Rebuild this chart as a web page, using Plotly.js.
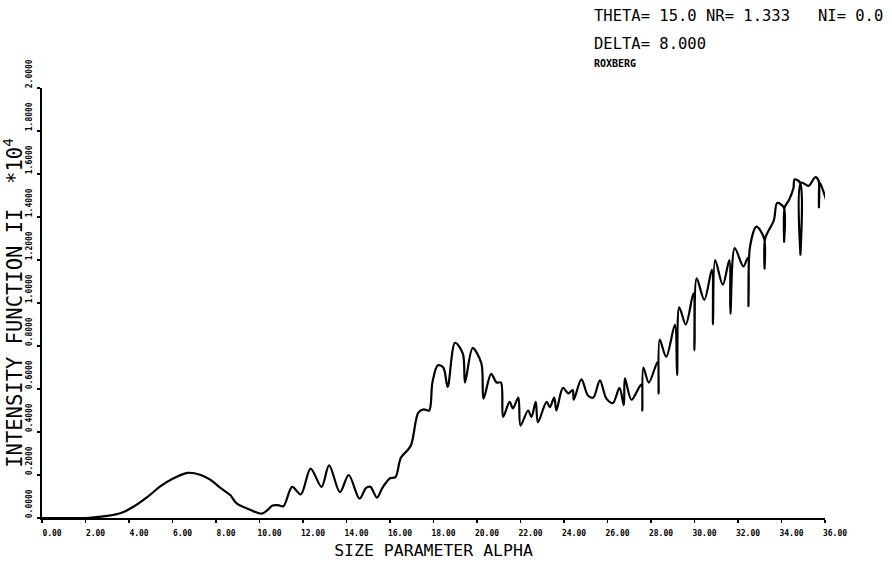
<!DOCTYPE html>
<html>
<head>
<meta charset="utf-8">
<script src="https://cdn.plot.ly/plotly-3.0.1.min.js"></script>
<style>
  html, body { margin: 0; padding: 0; background: #ffffff; }
  #chart { width: 892px; height: 565px; }
</style>
</head>
<body>
<div id="chart"></div>
<script>
// Size parameter alpha (x) and intensity function I1 (*10^4)
const alpha = [
  0.0, 1.0, 2.0, 2.4, 3.0, 3.6, 4.2, 4.85, 5.45, 6.05, 6.7, 7.3, 7.75, 8.2, 8.65, 8.95, 9.6, 10.1,
  10.35, 10.6, 10.85, 11.1, 11.5, 11.9, 12.35, 12.85, 13.2, 13.7, 14.1, 14.6, 14.9, 15.1, 15.4,
  15.65, 16.0, 16.25, 16.5, 16.95, 17.3, 17.55, 17.8, 17.95, 18.2, 18.45, 18.65, 18.99, 19.35,
  19.45, 19.8, 20.2, 20.3, 20.65, 20.9, 21.1, 21.2, 21.5, 21.65, 21.9, 22.0, 22.35, 22.5, 22.7,
  22.8, 23.2, 23.35, 23.55, 23.65, 23.95, 24.2, 24.4, 24.45, 24.8, 25.1, 25.35, 25.65, 25.95,
  26.25, 26.55, 26.75, 26.8, 27.1, 27.55, 27.6, 27.65, 27.9, 28.3, 28.35, 28.4, 28.7, 29.1,
  29.2, 29.3, 29.6, 29.95, 30.0, 30.1, 30.45, 30.8, 30.85, 30.95, 31.3, 31.6, 31.65, 31.85,
  32.25, 32.45, 32.48, 32.55, 32.85, 33.2, 33.22, 33.25, 33.65, 33.8, 34.1, 34.12, 34.15,
  34.35, 34.55, 34.6, 34.85, 34.87, 34.9, 35.25, 35.55, 35.7, 35.72, 35.75, 35.85, 36.05
];
const intensity = [
  0.0, 0.0, 0.0, 0.003, 0.01, 0.022, 0.052, 0.098, 0.148, 0.185, 0.21, 0.2, 0.177, 0.14, 0.107, 0.068, 0.037, 0.02,
  0.035, 0.058, 0.06, 0.055, 0.145, 0.11, 0.23, 0.145, 0.245, 0.12, 0.2, 0.09, 0.14, 0.145, 0.095,
  0.14, 0.185, 0.19, 0.28, 0.335, 0.49, 0.505, 0.5, 0.63, 0.71, 0.7, 0.61, 0.815, 0.765,
  0.63, 0.79, 0.72, 0.555, 0.67, 0.63, 0.63, 0.47, 0.54, 0.51, 0.56, 0.43, 0.5, 0.47, 0.54,
  0.445, 0.54, 0.515, 0.56, 0.5, 0.605, 0.58, 0.595, 0.55, 0.645, 0.57, 0.56, 0.64, 0.555,
  0.535, 0.605, 0.525, 0.65, 0.55, 0.62, 0.5, 0.7, 0.63, 0.725, 0.58, 0.83, 0.75, 0.9,
  0.665, 0.98, 0.9, 1.045, 0.78, 1.115, 1.015, 1.155, 0.9, 1.2, 1.085, 1.2, 0.95, 1.255,
  1.17, 1.21, 0.985, 1.26, 1.355, 1.3, 1.16, 1.3, 1.385, 1.465, 1.445, 1.285, 1.445,
  1.48, 1.535, 1.575, 1.56, 1.225, 1.56, 1.545, 1.585, 1.57, 1.445, 1.56, 1.54, 1.48
];

const xTitle = "SIZE PARAMETER ALPHA";
const yTitle = "INTENSITY FUNCTION II  *10<sup>4</sup>";
const headerLines = ["THETA= 15.0 NR= 1.333   NI= 0.0", "DELTA= 8.000", "ROXBERG"];

const trace = {
  x: alpha,
  y: intensity,
  type: "scatter",
  mode: "lines",
  line: { color: "#000000", width: 2.2, shape: "spline", smoothing: 0.9 },
  hoverinfo: "skip",
  showlegend: false
};

const tickFont = { family: "DejaVu Sans Mono", size: 8, color: "#000000", weight: "bold" };

const layout = {
  width: 892,
  height: 565,
  paper_bgcolor: "#ffffff",
  plot_bgcolor: "#ffffff",
  margin: { l: 42, r: 67, t: 88, b: 47 },
  showlegend: false,
  xaxis: {
    range: [0, 36],
    dtick: 2,
    tick0: 0,
    tickformat: ".2f",
    showgrid: false,
    zeroline: false,
    showline: true,
    linecolor: "#000000",
    linewidth: 2,
    ticks: "outside",
    ticklen: 3,
    tickwidth: 1.5,
    tickcolor: "#000000",
    tickfont: tickFont,
    ticklabelshift: 10,
    ticklabelstandoff: 3,
    title: { text: xTitle, font: { family: "DejaVu Sans Mono", size: 16.5, color: "#000000" }, standoff: 8 }
  },
  yaxis: {
    range: [0, 2],
    dtick: 0.2,
    tick0: 0,
    tickformat: ".4f",
    tickangle: -90,
    showgrid: false,
    zeroline: false,
    showline: true,
    linecolor: "#000000",
    linewidth: 2,
    ticks: "outside",
    ticklen: 3,
    tickwidth: 1.5,
    tickcolor: "#000000",
    tickfont: tickFont,
    ticklabelshift: -13,
    ticklabelstandoff: 2,
    title: { text: yTitle, font: { family: "DejaVu Sans Mono", size: 20.5, color: "#000000" }, standoff: 3 }
  },
  annotations: [
    { text: headerLines[0], xref: "paper", yref: "paper", x: 0.7024, y: 1.1674, xanchor: "left", yanchor: "middle", showarrow: false,
      font: { family: "DejaVu Sans Mono", size: 15.5, color: "#000000" } },
    { text: headerLines[1], xref: "paper", yref: "paper", x: 0.7024, y: 1.1023, xanchor: "left", yanchor: "middle", showarrow: false,
      font: { family: "DejaVu Sans Mono", size: 15.5, color: "#000000" } },
    { text: headerLines[2], xref: "paper", yref: "paper", x: 0.7024, y: 1.058, xanchor: "left", yanchor: "middle", showarrow: false,
      font: { family: "DejaVu Sans Mono", size: 10, color: "#000000", weight: "bold" } }
  ]
};

Plotly.newPlot("chart", [trace], layout, { staticPlot: true, displayModeBar: false });
</script>
</body>
</html>
